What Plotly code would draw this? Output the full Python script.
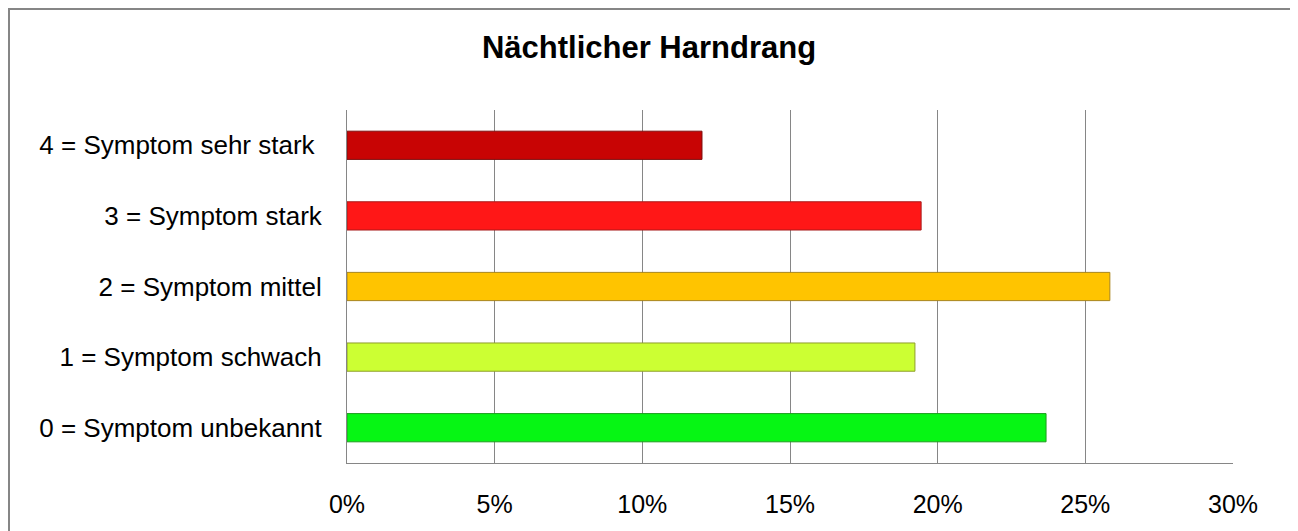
import plotly.graph_objects as go

categories = ["0 = Symptom unbekannt", "1 = Symptom schwach", "2 = Symptom mittel",
              "3 = Symptom stark", "4 = Symptom sehr stark "]
values = [0.2367, 0.1923, 0.2583, 0.1944, 0.1202]
colors = ["#06F614", "#CCFF33", "#FFC400", "#FF1717", "#C80404"]
edge_colors = ["#1E9E1E", "#8E9E2A", "#A8841A", "#A81C1C", "#7E1010"]
x_ticks = [0, 0.05, 0.10, 0.15, 0.20, 0.25, 0.30]
x_tick_labels = ["0%", "5%", "10%", "15%", "20%", "25%", "30%"]
title = "Nächtlicher Harndrang"

# page has an 8px body margin; figure coordinates are page coordinates minus 8
OFF = 8
W, H = 1298 - OFF, 531 - OFF
L, R, T, B = 347 - OFF, 1233 - OFF, 110 - OFF, 463 - OFF

fig = go.Figure()
fig.add_trace(go.Bar(
    y=categories, x=values, orientation="h", width=0.4,
    marker=dict(color=colors, line=dict(color=edge_colors, width=1)),
    hoverinfo="x+y",
))

pw, ph = R - L, B - T
def px_x(x): return (x - L) / pw
def px_y(y): return (B - y) / ph

fig.add_shape(type="rect", xref="paper", yref="paper",
              x0=px_x(1), x1=px_x(1284), y0=px_y(540), y1=px_y(1),
              line=dict(color="#868686", width=2), layer="below")

fig.update_layout(
    width=W, height=H,
    margin=dict(l=L, r=W - R, t=T, b=H - B, pad=0),
    paper_bgcolor="white", plot_bgcolor="white",
    showlegend=False,
    title=dict(text="<b>" + title + "</b>", x=(649 - OFF) / W, xref="container",
               y=1 - (47 - OFF) / H, yref="container",
               yanchor="middle", xanchor="center",
               font=dict(family="Liberation Sans, Arial", size=31, color="black")),
    font=dict(family="Liberation Sans, Arial", size=25, color="black"),
    bargap=0.6,
)
fig.update_xaxes(range=[0, 0.30], tickvals=x_ticks, ticktext=x_tick_labels,
                 showgrid=True, gridcolor="#868686", gridwidth=1,
                 showline=True, linecolor="#868686", linewidth=1,
                 zeroline=False, ticks="", ticklabelstandoff=19,
                 tickfont=dict(size=25))
fig.update_yaxes(showgrid=False, showline=True, linecolor="#868686", linewidth=1,
                 zeroline=False, ticks="", ticklabelstandoff=19,
                 tickfont=dict(size=26), categoryorder="array", categoryarray=categories)

fig.write_html("out.html")
